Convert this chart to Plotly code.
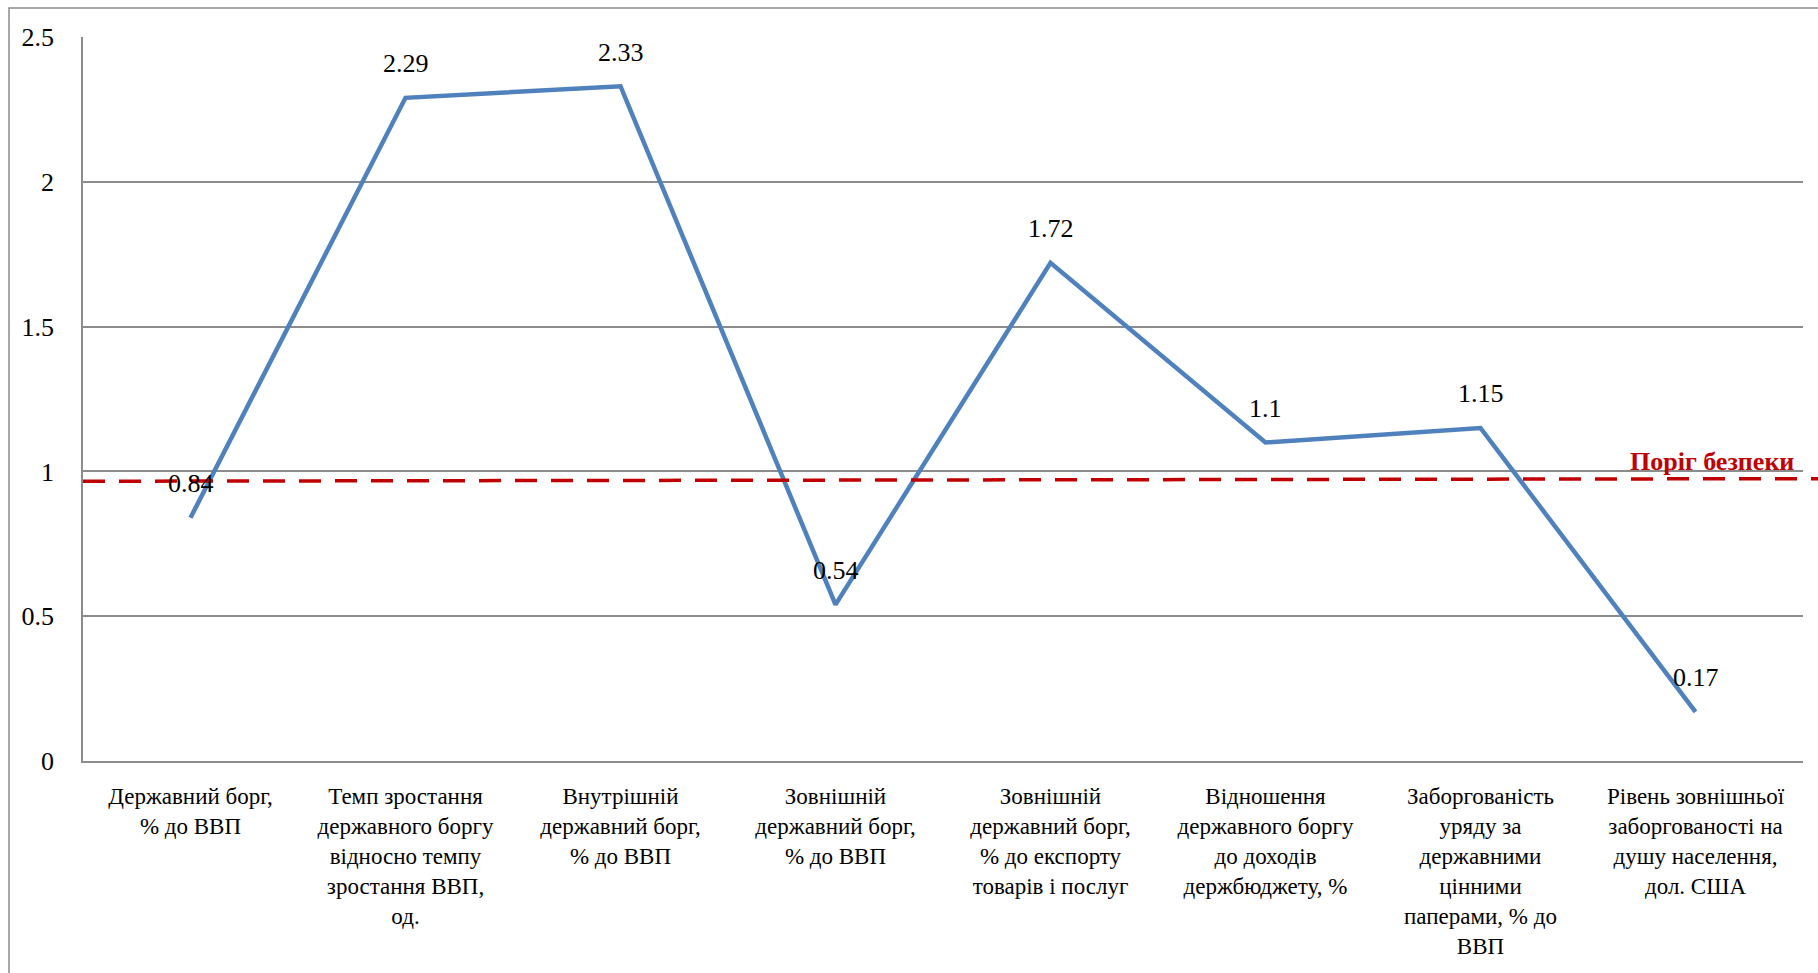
import plotly.graph_objects as go

categories = [
    "Державний борг,<br>% до ВВП",
    "Темп зростання<br>державного боргу<br>відносно темпу<br>зростання ВВП,<br>од.",
    "Внутрішній<br>державний борг,<br>% до ВВП",
    "Зовнішній<br>державний борг,<br>% до ВВП",
    "Зовнішній<br>державний борг,<br>% до експорту<br>товарів і послуг",
    "Відношення<br>державного боргу<br>до доходів<br>держбюджету, %",
    "Заборгованість<br>уряду за<br>державними<br>цінними<br>паперами, % до<br>ВВП",
    "Рівень зовнішньої<br>заборгованості на<br>душу населення,<br>дол. США",
]
values = [0.84, 2.29, 2.33, 0.54, 1.72, 1.1, 1.15, 0.17]
labels = ["0.84", "2.29", "2.33", "0.54", "1.72", "1.1", "1.15", "0.17"]
threshold_left = 0.966
threshold_right = 0.975
threshold_label = "Поріг безпеки"
y_ticks = [0, 0.5, 1, 1.5, 2, 2.5]
y_ticklabels = ["0", "0.5", "1", "1.5", "2", "2.5"]

W, H = 1818, 973
ML, MR, MT, MB = 83, 15, 37, 212
pw, ph = W - ML - MR, H - MT - MB

def px2x(px):
    return (px - ML) / pw

def py2y(py):
    return (H - MB - py) / ph

FONT = "Liberation Serif"
FW = 500
xs = list(range(len(categories)))

fig = go.Figure()
fig.add_trace(go.Scatter(
    x=xs, y=values, mode="lines",
    line=dict(color="#4F81BD", width=4.5),
    hoverinfo="skip", showlegend=False,
))

for xi, v, t in zip(xs, values, labels):
    fig.add_annotation(x=xi, y=v, text=t, showarrow=False, yshift=34,
                       font=dict(family=FONT, size=26, color="black", weight=FW))

# threshold dashed line (extends to right edge of the picture)
fig.add_shape(type="line", xref="paper", yref="y",
              x0=0, x1=px2x(W), y0=threshold_left, y1=threshold_right,
              line=dict(color="#C00000", width=3.5, dash="22px,14px"))
fig.add_annotation(xref="paper", yref="paper", x=px2x(1796), y=py2y(461),
                   xanchor="right", yanchor="middle", showarrow=False,
                   text="<b>" + threshold_label + "</b>",
                   font=dict(family=FONT, size=26, color="#C00000"))

# outer frame
fig.add_shape(type="rect", xref="paper", yref="paper",
              x0=px2x(9), x1=px2x(W + 20), y0=py2y(H + 20), y1=py2y(8),
              line=dict(color="#8C8C8C", width=1.5), layer="below")

fig.update_layout(
    width=W, height=H,
    margin=dict(l=ML, r=MR, t=MT, b=MB, pad=0),
    paper_bgcolor="white", plot_bgcolor="white",
    font=dict(family=FONT, size=24, color="black", weight=FW),
    xaxis=dict(
        range=[-0.5, len(categories) - 0.5],
        tickmode="array", tickvals=xs, ticktext=categories,
        showgrid=False, zeroline=False, automargin=False,
        showline=True, linecolor="#8C8C8C", linewidth=1.5,
        ticks="", ticklabelstandoff=14,
        tickfont=dict(family=FONT, size=23, color="black", weight=FW),
    ),
    yaxis=dict(
        range=[0, 2.5],
        tickmode="array", tickvals=y_ticks, ticktext=y_ticklabels,
        showgrid=True, gridcolor="#8C8C8C", gridwidth=1.5,
        zeroline=False, automargin=False,
        showline=True, linecolor="#8C8C8C", linewidth=1.5,
        ticks="", ticklabelstandoff=22,
        tickfont=dict(family=FONT, size=26, color="black", weight=FW),
    ),
)

fig.write_html("out.html", config={"displayModeBar": False},
               post_script="document.body.style.margin='0';document.body.style.overflow='hidden';")
